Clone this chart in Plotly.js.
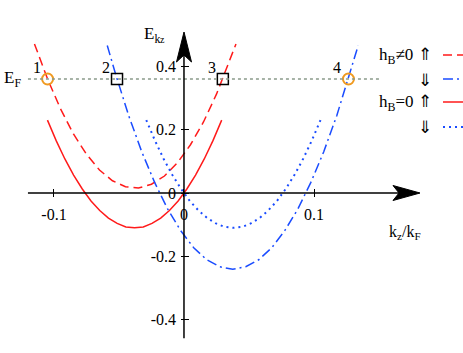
<!DOCTYPE html>
<html>
<head>
<meta charset="utf-8">
<script src="https://cdn.plot.ly/plotly-3.0.1.min.js"></script>
<style>
  body { margin: 0; background: #fff; }
  #plot { width: 463px; height: 353px; }
</style>
</head>
<body>
<div id="plot"></div>
<script>
// band curves (k_z/k_F , E)
let redDashX = [-0.115, -0.105, -0.095, -0.085, -0.075, -0.065, -0.055, -0.045, -0.035, -0.025, -0.015, -0.005, 0.005, 0.015, 0.025, 0.035, 0.040];
let redDashY = [0.472, 0.362, 0.267, 0.187, 0.123, 0.073, 0.039, 0.020, 0.016, 0.028, 0.054, 0.096, 0.153, 0.225, 0.313, 0.415, 0.472];

let blueDashDotX = [-0.059, -0.0525, -0.0425, -0.0325, -0.0225, -0.0125, -0.0025, 0.0075, 0.0175, 0.0275, 0.0375, 0.0475, 0.0575, 0.0675, 0.0775, 0.0875, 0.0975, 0.1075, 0.1175, 0.1275, 0.134];
let blueDashDotY = [0.467, 0.375, 0.245, 0.131, 0.033, -0.051, -0.119, -0.173, -0.211, -0.233, -0.241, -0.233, -0.211, -0.173, -0.119, -0.051, 0.033, 0.131, 0.245, 0.375, 0.467];

let redSolidX = [-0.105, -0.0983, -0.0916, -0.0849, -0.0782, -0.0715, -0.0648, -0.0581, -0.0514, -0.0447, -0.038, -0.0313, -0.0246, -0.0179, -0.0112, -0.0045, 0.0022, 0.0089, 0.0156, 0.0223, 0.029];
let redSolidY = [0.231, 0.166, 0.108, 0.057, 0.013, -0.025, -0.055, -0.079, -0.096, -0.107, -0.110, -0.107, -0.096, -0.079, -0.055, -0.025, 0.013, 0.057, 0.108, 0.166, 0.231];

let blueDotX = [-0.029, -0.0223, -0.0156, -0.0089, -0.0022, 0.0045, 0.0112, 0.0179, 0.0246, 0.0313, 0.038, 0.0447, 0.0514, 0.0581, 0.0648, 0.0715, 0.0782, 0.0849, 0.0916, 0.0983, 0.105];
let blueDotY = [0.231, 0.166, 0.108, 0.057, 0.013, -0.025, -0.055, -0.079, -0.096, -0.107, -0.110, -0.107, -0.096, -0.079, -0.055, -0.025, 0.013, 0.057, 0.108, 0.166, 0.231];

// Fermi level and the crossing points
let EF = 0.361;
let circleX = [-0.1049, 0.1265];
let circleLabels = ["1", "4"];
let squareX = [-0.0515, 0.0299];
let squareLabels = ["2", "3"];

let xTicks = [-0.1, 0, 0.1];
let xTickText = ["-0.1", "0", "0.1"];
let yTicks = [-0.4, -0.2, 0, 0.2, 0.4];
let yTickText = ["-0.4", "-0.2", "0", "0.2", "0.4"];

let legendText = ["h<sub>B</sub>\u22600 \u21d1", "\u21d3", "h<sub>B</sub>=0 \u21d1", "\u21d3"];

const RED = "#ff1a1a";
const BLUE = "#1a4cff";
const ORANGE = "#f09a20";
const FONT = "Liberation Serif";

// pixel -> paper helpers (plot area fills the whole page)
const W = 463, H = 353;
function px(p) { return p / W; }
function py(p) { return 1 - p / H; }

function txt(size) { return { family: FONT, size: size, color: "#000" }; }

let traces = [
  { x: redDashX, y: redDashY, mode: "lines", line: { color: RED, width: 1.5, dash: "9px,5px" } },
  { x: blueDashDotX, y: blueDashDotY, mode: "lines", line: { color: BLUE, width: 1.5, dash: "10px,4px,2px,4px" } },
  { x: redSolidX, y: redSolidY, mode: "lines", line: { color: RED, width: 1.5 } },
  { x: blueDotX, y: blueDotY, mode: "lines", line: { color: BLUE, width: 2, dash: "2px,4px" } },
  {
    x: circleX, y: circleX.map(() => EF), mode: "markers",
    marker: { symbol: "circle-open", size: 11, color: ORANGE, line: { width: 2, color: ORANGE } }
  },
  {
    x: squareX, y: squareX.map(() => EF), mode: "markers",
    marker: { symbol: "square-open", size: 11, color: "#000", line: { width: 1.5, color: "#000" } }
  }
];

let annotations = [];
circleX.concat(squareX).forEach((x, i) => {
  annotations.push({
    x: x, y: EF, xref: "x", yref: "y", text: circleLabels.concat(squareLabels)[i],
    showarrow: false, xshift: -11, yshift: 12, font: txt(16)
  });
});

annotations.push(
  { x: px(2), y: py(66), xref: "paper", yref: "paper", xanchor: "left", text: "E<sub>F</sub>",
    showarrow: false, font: txt(17) },
  { x: px(142), y: py(22), xref: "paper", yref: "paper", xanchor: "left", text: "E<sub>k</sub>",
    showarrow: false, font: txt(17) },
  { x: px(158), y: py(32), xref: "paper", yref: "paper", xanchor: "left", text: "z",
    showarrow: false, font: txt(10) },
  { x: px(423), y: py(244), xref: "paper", yref: "paper", text: "k<sub>z</sub>/k<sub>F</sub>",
    showarrow: false, font: txt(16) }
);

let legendRows = [55, 79, 102, 127];
let legendStyles = [
  { color: RED, width: 1.5, dash: "9px,5px" },
  { color: BLUE, width: 1.5, dash: "10px,4px,2px,4px" },
  { color: RED, width: 1.5 },
  { color: BLUE, width: 2, dash: "2px,4px" }
];

let shapes = [
  // Fermi level
  { type: "line", xref: "x", yref: "y", x0: -0.12, x1: 0.1508, y0: EF, y1: EF,
    line: { color: "#8a9a8a", width: 1.5, dash: "3px,3px" } },
  // axes
  { type: "line", xref: "x", yref: "y", x0: -0.12, x1: 0.165, y0: 0, y1: 0, line: { color: "#000", width: 1.5 } },
  { type: "line", xref: "x", yref: "y", x0: 0, x1: 0, y0: -0.459, y1: 0.45, line: { color: "#000", width: 1.5 } },
  // arrow heads
  { type: "path", xref: "paper", yref: "paper", fillcolor: "#000", line: { color: "#000", width: 1 },
    path: `M${px(420)},${py(193)} L${px(393)},${py(185.5)} L${px(399)},${py(193)} L${px(393)},${py(200.5)} Z` },
  { type: "path", xref: "paper", yref: "paper", fillcolor: "#000", line: { color: "#000", width: 1 },
    path: `M${px(184)},${py(32)} L${px(176.5)},${py(62)} L${px(184)},${py(55)} L${px(191.5)},${py(62)} Z` }
];

legendText.forEach((t, i) => {
  annotations.push({
    x: px(434), y: py(legendRows[i] + 1), xref: "paper", yref: "paper", xanchor: "right", yanchor: "middle",
    text: t, showarrow: false, font: txt(17)
  });
  shapes.push({
    type: "line", xref: "paper", yref: "paper", x0: px(443), x1: px(475),
    y0: py(legendRows[i]), y1: py(legendRows[i]), line: legendStyles[i]
  });
});

let layout = {
  width: W, height: H,
  margin: { l: 0, r: 0, t: 0, b: 0 },
  paper_bgcolor: "#fff", plot_bgcolor: "#fff",
  font: txt(15),
  showlegend: false,
  xaxis: {
    range: [-0.1415, 0.2146], anchor: "free", position: 0.4417,
    showgrid: false, zeroline: false, showline: false,
    tickvals: xTicks, ticktext: xTickText, ticks: "inside", ticklen: 8, tickcolor: "#000",
    ticklabelstandoff: 6, tickfont: txt(16)
  },
  yaxis: {
    range: [-0.506, 0.611], anchor: "free", position: 0.3888,
    showgrid: false, zeroline: false, showline: false,
    tickvals: yTicks, ticktext: yTickText, ticks: "inside", ticklen: 8, tickcolor: "#000",
    ticklabelstandoff: 4, tickfont: txt(16)
  },
  shapes: shapes,
  annotations: annotations
};

Plotly.newPlot("plot", traces, layout, { staticPlot: true });
</script>
</body>
</html>
